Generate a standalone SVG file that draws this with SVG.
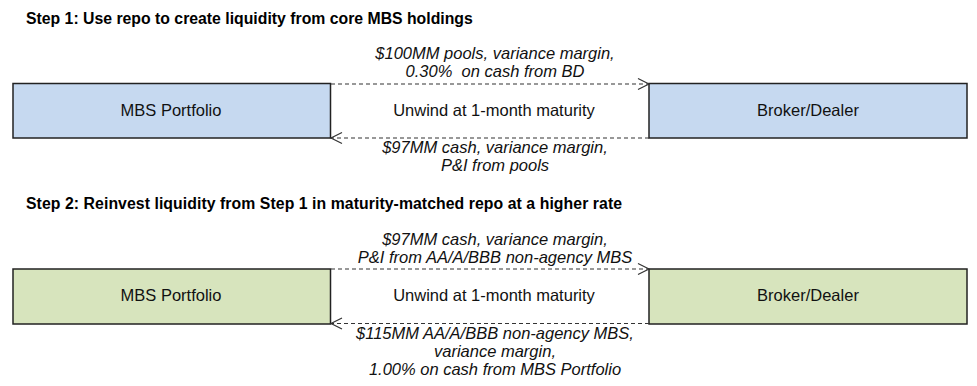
<svg xmlns="http://www.w3.org/2000/svg" width="977" height="386" viewBox="0 0 977 386">
<defs>
<marker id="chev" markerWidth="14" markerHeight="14" refX="12" refY="7" orient="auto" markerUnits="userSpaceOnUse">
<path d="M1,1.5 L12,7 L1,12.5" fill="none" stroke="#333" stroke-width="1.2"/>
</marker>
<style>
.t{font-family:"Liberation Sans",Arial,sans-serif;font-weight:bold;font-size:15.8px;fill:#000}
.n{font-family:"Liberation Sans",Arial,sans-serif;font-size:16.5px;fill:#111;text-anchor:middle}
.l{font-family:"Liberation Sans",Arial,sans-serif;font-style:italic;font-size:16.5px;fill:#111;text-anchor:middle}
.b1{fill:#c6d9f0;stroke:#222;stroke-width:1.5}
.b2{fill:#d7e4bd;stroke:#222;stroke-width:1.5}
.c{fill:none;stroke:#333;stroke-width:1.2;stroke-dasharray:4 3}
</style>
</defs>
<rect width="977" height="386" fill="#fff"/>
<text class="t" x="26" y="24">Step 1: Use repo to create liquidity from core MBS holdings</text>
<text class="t" x="26" y="209" textLength="596">Step 2: Reinvest liquidity from Step 1 in maturity-matched repo at a higher rate</text>

<g id="mbs1"><rect class="b1" x="13" y="83.5" width="317.5" height="54.5"/><text class="n" x="171" y="116">MBS Portfolio</text></g>
<g id="bd1"><rect class="b1" x="649" y="83.5" width="318" height="54.5"/><text class="n" x="808" y="116">Broker/Dealer</text></g>
<g id="mbs2"><rect class="b2" x="13" y="269" width="317.5" height="55"/><text class="n" x="171" y="301">MBS Portfolio</text></g>
<g id="bd2"><rect class="b2" x="649" y="269" width="318" height="55"/><text class="n" x="808" y="301">Broker/Dealer</text></g>

<g id="connectors">
<line class="c" x1="331" y1="84" x2="649" y2="84" marker-end="url(#chev)"/>
<line class="c" x1="649" y1="138" x2="331" y2="138" marker-end="url(#chev)"/>
<line class="c" x1="331" y1="269" x2="649" y2="269" marker-end="url(#chev)"/>
<line class="c" x1="649" y1="323.5" x2="331" y2="323.5" marker-end="url(#chev)"/>
<text class="l" x="495" y="59">$100MM pools, variance margin,</text>
<text class="l" x="495" y="77" xml:space="preserve">0.30%  on cash from BD</text>
<text class="n" x="494" y="116">Unwind at 1-month maturity</text>
<text class="l" x="495" y="153">$97MM cash, variance margin,</text>
<text class="l" x="495" y="171">P&amp;I from pools</text>
<text class="l" x="495" y="245">$97MM cash, variance margin,</text>
<text class="l" x="495" y="263">P&amp;I from AA/A/BBB non-agency MBS</text>
<text class="n" x="494" y="301">Unwind at 1-month maturity</text>
<text class="l" x="495" y="339">$115MM AA/A/BBB non-agency MBS,</text>
<text class="l" x="495" y="357">variance margin,</text>
<text class="l" x="495" y="375">1.00% on cash from MBS Portfolio</text>
</g>
</svg>
